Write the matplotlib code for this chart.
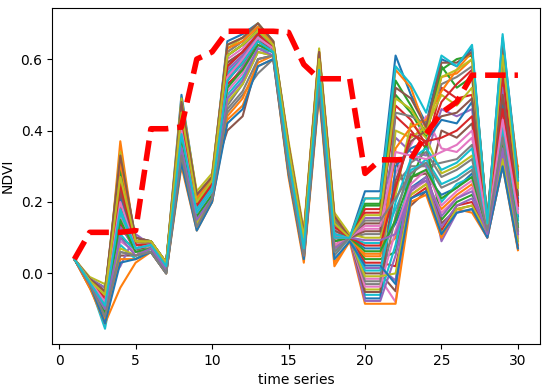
import numpy as np
import matplotlib
matplotlib.use("Agg")
from matplotlib import pyplot as plt

t = list(range(1, 31))

# media (linea roja discontinua)
media = [0.04, 0.115, 0.115, 0.115, 0.12, 0.405, 0.405, 0.41, 0.60, 0.62,
         0.678, 0.678, 0.678, 0.678, 0.675, 0.585, 0.545, 0.545, 0.545, 0.28,
         0.318, 0.318, 0.32, 0.39, 0.45, 0.48, 0.555, 0.555, 0.555, 0.555]

# series NDVI de cada pixel
series = [
    [0.04, -0.02, -0.05, 0.30, 0.09, 0.09, 0.03, 0.50, 0.22, 0.27, 0.65, 0.67, 0.70, 0.65, 0.36, 0.11, 0.62, 0.16, 0.10, 0.23, 0.23, 0.61, 0.50, 0.42, 0.60, 0.58, 0.63, 0.15, 0.66, 0.28],
    [0.04, -0.03, -0.10, 0.37, 0.08, 0.08, 0.02, 0.47, 0.20, 0.25, 0.62, 0.65, 0.69, 0.64, 0.34, 0.09, 0.60, 0.14, 0.10, 0.21, 0.21, 0.57, 0.52, 0.40, 0.55, 0.56, 0.60, 0.14, 0.64, 0.25],
    [0.04, -0.015, -0.04, 0.10, 0.07, 0.08, 0.03, 0.42, 0.19, 0.24, 0.58, 0.62, 0.67, 0.63, 0.33, 0.08, 0.58, 0.12, 0.10, 0.19, 0.19, 0.50, 0.45, 0.38, 0.58, 0.52, 0.55, 0.13, 0.60, 0.22],
    [0.04, -0.02, -0.07, 0.22, 0.10, 0.09, 0.02, 0.38, 0.17, 0.23, 0.55, 0.60, 0.66, 0.63, 0.32, 0.07, 0.57, 0.10, 0.10, 0.18, 0.18, 0.44, 0.40, 0.35, 0.52, 0.49, 0.50, 0.13, 0.55, 0.20],
    [0.04, -0.03, -0.13, 0.18, 0.06, 0.07, 0.01, 0.35, 0.16, 0.22, 0.52, 0.58, 0.65, 0.62, 0.31, 0.06, 0.55, 0.09, 0.10, 0.155, 0.155, 0.38, 0.34, 0.33, 0.46, 0.44, 0.46, 0.12, 0.52, 0.18],
    [0.04, -0.04, -0.09, 0.05, 0.05, 0.07, 0.01, 0.31, 0.13, 0.27, 0.40, 0.44, 0.60, 0.61, 0.29, 0.05, 0.53, 0.07, 0.10, 0.14, 0.14, 0.32, 0.19, 0.23, 0.40, 0.38, 0.42, 0.11, 0.48, 0.15],
    [0.04, -0.02, -0.06, 0.28, 0.08, 0.08, 0.03, 0.44, 0.21, 0.26, 0.60, 0.63, 0.68, 0.64, 0.35, 0.10, 0.61, 0.15, 0.10, 0.125, 0.125, 0.28, 0.36, 0.44, 0.35, 0.34, 0.38, 0.14, 0.44, 0.12],
    [0.04, -0.03, -0.11, 0.24, 0.07, 0.06, 0.00, 0.33, 0.14, 0.21, 0.45, 0.50, 0.56, 0.60, 0.28, 0.04, 0.52, 0.05, 0.10, 0.11, 0.11, 0.25, 0.30, 0.30, 0.31, 0.32, 0.36, 0.12, 0.42, 0.10],
    [0.04, -0.01, -0.03, 0.12, 0.09, 0.08, 0.02, 0.48, 0.23, 0.28, 0.63, 0.66, 0.69, 0.65, 0.37, 0.12, 0.63, 0.17, 0.11, 0.10, 0.10, 0.22, 0.42, 0.38, 0.28, 0.30, 0.33, 0.16, 0.40, 0.30],
    [0.04, -0.03, -0.155, 0.08, 0.04, 0.07, 0.01, 0.36, 0.15, 0.22, 0.50, 0.55, 0.63, 0.62, 0.30, 0.05, 0.54, 0.06, 0.10, 0.085, 0.085, 0.18, 0.28, 0.32, 0.25, 0.27, 0.30, 0.12, 0.38, 0.14],
    [0.04, -0.02, -0.08, 0.20, 0.08, 0.08, 0.02, 0.41, 0.18, 0.24, 0.57, 0.61, 0.67, 0.63, 0.33, 0.08, 0.58, 0.11, 0.10, 0.07, 0.07, 0.14, 0.24, 0.27, 0.22, 0.24, 0.28, 0.13, 0.36, 0.16],
    [0.04, -0.04, -0.14, -0.04, 0.03, 0.06, 0.00, 0.30, 0.12, 0.20, 0.43, 0.47, 0.58, 0.60, 0.27, 0.03, 0.50, 0.02, 0.09, 0.055, 0.055, 0.10, 0.22, 0.25, 0.18, 0.22, 0.25, 0.11, 0.34, 0.08],
    [0.04, -0.02, -0.05, 0.32, 0.10, 0.09, 0.03, 0.46, 0.21, 0.26, 0.61, 0.64, 0.68, 0.64, 0.35, 0.10, 0.60, 0.15, 0.10, 0.04, 0.04, 0.06, 0.26, 0.36, 0.15, 0.20, 0.22, 0.14, 0.32, 0.20],
    [0.04, -0.03, -0.12, 0.14, 0.06, 0.07, 0.01, 0.37, 0.16, 0.23, 0.53, 0.57, 0.64, 0.62, 0.31, 0.06, 0.56, 0.08, 0.10, 0.03, 0.03, 0.02, 0.21, 0.24, 0.12, 0.19, 0.20, 0.12, 0.31, 0.07],
    [0.04, -0.015, -0.04, 0.02, 0.11, 0.08, 0.02, 0.43, 0.19, 0.25, 0.59, 0.62, 0.67, 0.63, 0.34, 0.09, 0.59, 0.13, 0.10, 0.015, 0.015, -0.02, 0.33, 0.30, 0.09, 0.17, 0.18, 0.10, 0.30, 0.26],
    [0.04, -0.03, -0.10, 0.26, 0.07, 0.07, 0.01, 0.39, 0.17, 0.23, 0.54, 0.59, 0.65, 0.62, 0.32, 0.07, 0.57, 0.09, 0.10, 0.00, 0.00, -0.05, 0.27, 0.28, 0.14, 0.18, 0.19, 0.11, 0.33, 0.11],
    [0.04, -0.02, -0.07, 0.16, 0.08, 0.08, 0.02, 0.42, 0.18, 0.24, 0.56, 0.61, 0.66, 0.63, 0.33, 0.08, 0.58, 0.12, 0.10, -0.015, -0.015, -0.08, 0.23, 0.26, 0.17, 0.21, 0.24, 0.13, 0.35, 0.17],
    [0.04, -0.03, -0.09, 0.06, 0.05, 0.07, 0.01, 0.34, 0.14, 0.21, 0.47, 0.53, 0.62, 0.61, 0.30, 0.05, 0.54, 0.07, 0.10, -0.03, -0.03, 0.16, 0.31, 0.34, 0.27, 0.29, 0.32, 0.12, 0.39, 0.13],
    [0.04, -0.015, -0.06, 0.34, 0.09, 0.09, 0.03, 0.49, 0.22, 0.27, 0.64, 0.66, 0.70, 0.65, 0.36, 0.11, 0.62, 0.16, 0.10, -0.045, -0.045, 0.40, 0.38, 0.41, 0.50, 0.47, 0.52, 0.15, 0.58, 0.24],
    [0.04, -0.02, -0.11, 0.11, 0.06, 0.07, 0.01, 0.36, 0.15, 0.22, 0.49, 0.54, 0.63, 0.62, 0.30, 0.06, 0.55, 0.06, 0.10, -0.06, -0.06, 0.08, 0.29, 0.31, 0.20, 0.25, 0.27, 0.12, 0.37, 0.09],
    [0.04, -0.03, -0.08, 0.21, 0.07, 0.08, 0.02, 0.40, 0.17, 0.23, 0.56, 0.60, 0.66, 0.63, 0.32, 0.07, 0.57, 0.10, 0.10, -0.07, -0.07, 0.30, 0.35, 0.37, 0.43, 0.42, 0.48, 0.13, 0.47, 0.21],
    [0.04, -0.04, -0.13, 0.04, 0.04, 0.06, 0.00, 0.32, 0.13, 0.20, 0.44, 0.49, 0.59, 0.61, 0.28, 0.04, 0.51, 0.03, 0.09, -0.085, -0.085, -0.085, 0.20, 0.22, 0.10, 0.18, 0.17, 0.10, 0.30, 0.065],
    [0.04, -0.02, -0.05, 0.29, 0.09, 0.09, 0.03, 0.45, 0.20, 0.26, 0.61, 0.64, 0.68, 0.64, 0.35, 0.10, 0.61, 0.14, 0.10, 0.195, 0.195, 0.54, 0.47, 0.39, 0.57, 0.60, 0.61, 0.15, 0.62, 0.27],
    [0.04, -0.03, -0.09, 0.19, 0.07, 0.08, 0.02, 0.39, 0.17, 0.23, 0.54, 0.59, 0.65, 0.63, 0.32, 0.07, 0.56, 0.10, 0.10, 0.17, 0.17, 0.47, 0.43, 0.36, 0.48, 0.53, 0.57, 0.14, 0.56, 0.19],
    [0.04, -0.02, -0.08, 0.13, 0.07, 0.08, 0.02, 0.40, 0.18, 0.24, 0.57, 0.61, 0.66, 0.63, 0.32, 0.08, 0.57, 0.11, 0.10, -0.077, -0.077, 0.05, 0.24, 0.26, 0.13, 0.19, 0.21, 0.12, 0.34, 0.12],
    [0.04, -0.025, -0.10, 0.23, 0.08, 0.08, 0.02, 0.43, 0.19, 0.25, 0.59, 0.62, 0.67, 0.63, 0.33, 0.09, 0.59, 0.12, 0.10, -0.052, -0.052, 0.26, 0.37, 0.40, 0.44, 0.45, 0.49, 0.13, 0.50, 0.22],
    [0.04, -0.02, -0.06, 0.09, 0.06, 0.07, 0.01, 0.37, 0.16, 0.22, 0.51, 0.56, 0.64, 0.62, 0.31, 0.06, 0.56, 0.08, 0.10, -0.037, -0.037, 0.12, 0.25, 0.29, 0.19, 0.23, 0.26, 0.12, 0.36, 0.10],
    [0.04, -0.03, -0.12, 0.27, 0.09, 0.09, 0.03, 0.46, 0.21, 0.26, 0.62, 0.65, 0.69, 0.64, 0.35, 0.10, 0.61, 0.15, 0.10, -0.022, -0.022, 0.45, 0.44, 0.42, 0.53, 0.55, 0.58, 0.14, 0.60, 0.26],
    [0.04, -0.02, -0.07, 0.07, 0.05, 0.07, 0.01, 0.34, 0.14, 0.21, 0.48, 0.53, 0.62, 0.61, 0.30, 0.05, 0.54, 0.07, 0.10, -0.008, -0.008, 0.00, 0.22, 0.25, 0.11, 0.18, 0.19, 0.11, 0.32, 0.09],
    [0.04, -0.025, -0.09, 0.17, 0.07, 0.08, 0.02, 0.41, 0.18, 0.24, 0.56, 0.60, 0.66, 0.63, 0.32, 0.08, 0.58, 0.11, 0.10, 0.008, 0.008, 0.20, 0.32, 0.35, 0.29, 0.31, 0.35, 0.13, 0.41, 0.15],
    [0.04, -0.03, -0.14, 0.03, 0.04, 0.06, 0.00, 0.31, 0.12, 0.20, 0.42, 0.46, 0.58, 0.60, 0.28, 0.04, 0.51, 0.04, 0.09, 0.022, 0.022, -0.03, 0.21, 0.23, 0.11, 0.17, 0.18, 0.10, 0.30, 0.07],
    [0.04, -0.02, -0.05, 0.31, 0.09, 0.09, 0.03, 0.47, 0.21, 0.27, 0.63, 0.65, 0.69, 0.64, 0.36, 0.11, 0.62, 0.16, 0.10, 0.048, 0.048, 0.35, 0.41, 0.43, 0.51, 0.57, 0.62, 0.15, 0.63, 0.29],
    [0.04, -0.025, -0.11, 0.15, 0.06, 0.07, 0.01, 0.38, 0.16, 0.22, 0.52, 0.57, 0.64, 0.62, 0.31, 0.06, 0.56, 0.09, 0.10, 0.062, 0.062, 0.15, 0.27, 0.29, 0.21, 0.24, 0.27, 0.12, 0.37, 0.13],
    [0.04, -0.02, -0.07, 0.25, 0.08, 0.08, 0.02, 0.42, 0.19, 0.25, 0.58, 0.62, 0.67, 0.63, 0.33, 0.09, 0.59, 0.13, 0.10, 0.078, 0.078, 0.24, 0.39, 0.37, 0.38, 0.40, 0.44, 0.13, 0.46, 0.19],
    [0.04, -0.03, -0.10, 0.10, 0.05, 0.07, 0.01, 0.35, 0.15, 0.21, 0.49, 0.54, 0.63, 0.61, 0.30, 0.05, 0.55, 0.07, 0.10, 0.093, 0.093, 0.11, 0.23, 0.27, 0.16, 0.21, 0.23, 0.11, 0.35, 0.11],
    [0.04, -0.015, -0.05, 0.33, 0.10, 0.09, 0.03, 0.48, 0.22, 0.27, 0.64, 0.66, 0.70, 0.65, 0.36, 0.11, 0.62, 0.16, 0.10, 0.118, 0.118, 0.52, 0.49, 0.41, 0.59, 0.59, 0.62, 0.15, 0.65, 0.27],
    [0.04, -0.02, -0.08, 0.20, 0.07, 0.08, 0.02, 0.40, 0.17, 0.23, 0.55, 0.60, 0.66, 0.63, 0.32, 0.07, 0.57, 0.10, 0.10, 0.133, 0.133, 0.34, 0.33, 0.32, 0.34, 0.36, 0.40, 0.13, 0.43, 0.17],
    [0.04, -0.03, -0.12, 0.06, 0.05, 0.06, 0.00, 0.33, 0.13, 0.21, 0.46, 0.51, 0.60, 0.61, 0.29, 0.05, 0.53, 0.06, 0.10, 0.148, 0.148, 0.21, 0.28, 0.31, 0.24, 0.26, 0.29, 0.12, 0.38, 0.12],
    [0.04, -0.02, -0.06, 0.27, 0.09, 0.09, 0.03, 0.45, 0.20, 0.26, 0.61, 0.64, 0.68, 0.64, 0.35, 0.10, 0.60, 0.14, 0.10, 0.163, 0.163, 0.49, 0.46, 0.39, 0.55, 0.57, 0.60, 0.14, 0.61, 0.24],
    [0.04, -0.025, -0.09, 0.18, 0.07, 0.08, 0.02, 0.39, 0.17, 0.23, 0.54, 0.59, 0.65, 0.62, 0.32, 0.07, 0.57, 0.10, 0.10, 0.21, 0.21, 0.58, 0.53, 0.45, 0.61, 0.58, 0.64, 0.14, 0.67, 0.26],
]

fig = plt.figure(figsize=(5.5, 3.87), dpi=100)
ax = fig.add_axes([0.095, 0.111, 0.887, 0.868])

for s in series:
    ax.plot(t, s)

ax.plot(t, media, color='red', linestyle='--', linewidth=4)

ax.set_xlabel('time series')
ax.set_ylabel('NDVI')
ax.set_xticks([0, 5, 10, 15, 20, 25, 30])
ax.set_yticks([0.0, 0.2, 0.4, 0.6])

fig.savefig('out.png', dpi=100)
